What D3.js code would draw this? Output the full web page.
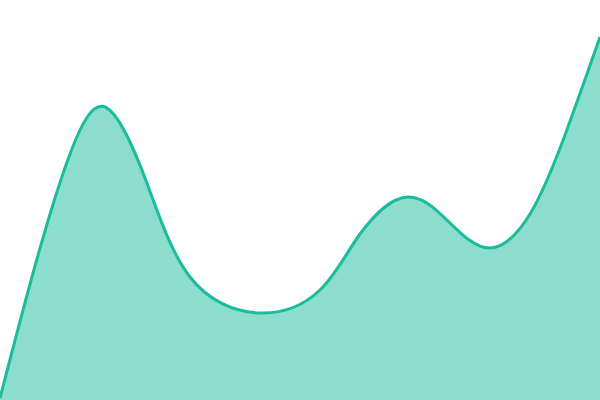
<!DOCTYPE html>
<html>
<head>
<meta charset="utf-8">
<script src="https://cdn.jsdelivr.net/npm/d3@7"></script>
<style>
html,body{margin:0;padding:0;background:#fff;}
svg{display:block;}
</style>
</head>
<body>
<svg id="chart" width="600" height="400"></svg>
<script>
const xValues = [0, 35, 70, 105, 145, 190, 259, 320, 360, 407, 450, 490, 530, 565, 600];
const yValues = [2, 134, 246, 293, 222, 123, 87, 110, 166, 203, 177, 152, 186, 265, 363];

const width = 600, height = 400;
const data = xValues.map((x, i) => ({x, y: yValues[i]}));

const x = d3.scaleLinear().domain([0, 600]).range([0, width]);
const y = d3.scaleLinear().domain([0, 400]).range([height, 0]);

const svg = d3.select("#chart");
const curve = d3.curveNatural;

const area = d3.area()
  .x(d => x(d.x))
  .y0(y(0))
  .y1(d => y(d.y))
  .curve(curve);

const line = d3.line()
  .x(d => x(d.x))
  .y(d => y(d.y))
  .curve(curve);

svg.append("path")
  .datum(data)
  .attr("d", area)
  .attr("fill", "#1abc9c")
  .attr("fill-opacity", 0.5);

svg.append("path")
  .datum(data)
  .attr("d", line)
  .attr("fill", "none")
  .attr("stroke", "#1abc9c")
  .attr("stroke-width", 3);
</script>
</body>
</html>
